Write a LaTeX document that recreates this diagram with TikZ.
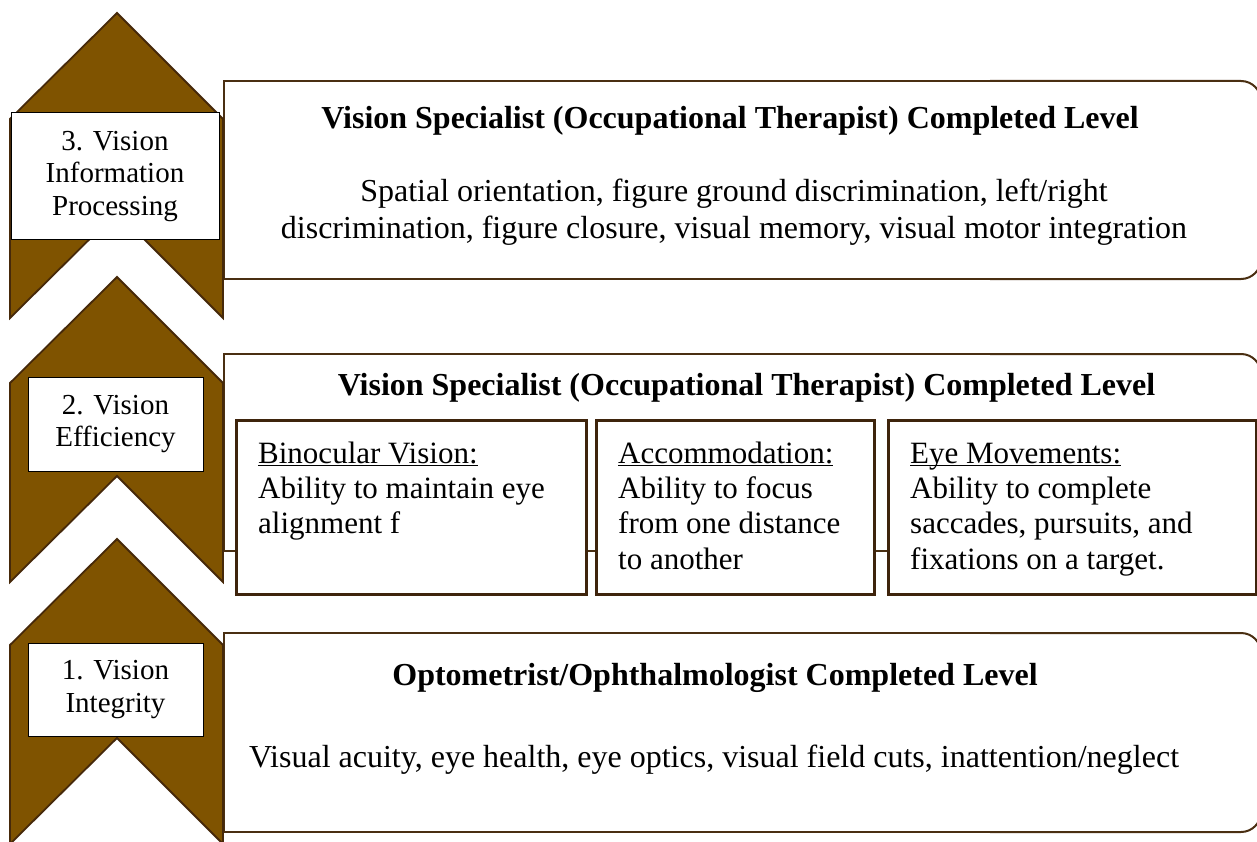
\documentclass[tikz,border=0pt]{standalone}
\usepackage{fontspec}
\setmainfont{Liberation Serif}
\definecolor{chevfill}{HTML}{7F5300}
\definecolor{chevline}{HTML}{46290A}
\definecolor{boxline}{HTML}{4A2F12}
\definecolor{cellline}{HTML}{3E240C}
% underlined heading with a rule at a fixed depth below the baseline
\newcommand\headul[1]{\leavevmode\setbox0\hbox{#1}\rlap{\rule[-3.2pt]{\wd0}{1.4pt}}\box0}
% upward chevron whose apex sits at height #1
\newcommand\chevronat[1]{%
  \draw[chevron] (10,{#1+106}) -- (117,#1) -- (223,{#1+106}) -- (223,{#1+305})
    -- (117,{#1+199}) -- (10,{#1+305}) -- cycle;}
% level panel: sharp on the left, rounded on the right (#1 top, #2 bottom)
\newcommand\levelpanel[2]{%
  \draw[levelbox] (1000,#2) -- (223.5,#2) -- (223.5,#1) -- (1000,#1);
  \draw[levelbox, rounded corners=20pt] (990,#1) -- (1261,#1) -- (1261,#2) -- (990,#2);}
\tikzset{
  chevron/.style={fill=chevfill, draw=chevline, line width=1.8pt, line join=miter},
  levelbox/.style={draw=boxline, line width=2pt},
  tagbox/.style={draw=black, fill=white, line width=1pt, inner sep=0pt, align=center,
    font=\fontsize{29}{32.5}\selectfont},
  cell/.style={draw=cellline, fill=white, line width=3.2pt, inner sep=0pt, anchor=north west},
  title/.style={font=\fontsize{32}{36.5}\selectfont\bfseries, anchor=base, inner sep=0pt},
  body/.style={font=\fontsize{32}{36.5}\selectfont, anchor=base, inner sep=0pt},
  celltext/.style={font=\fontsize{31}{35.4}\selectfont, anchor=base west, inner sep=0pt},
}
\begin{document}
\begin{tikzpicture}[x=1pt, y=-1pt]
\fill[white] (0,0) rectangle (1257,842);
\useasboundingbox (0,0) rectangle (1257,842);

% level panels
\levelpanel{81}{279}
\levelpanel{354}{551}
\levelpanel{633}{832}

% chevrons
\chevronat{13}
\chevronat{277}
\chevronat{539}

% level tags
\node[tagbox, minimum width=208pt, minimum height=127pt] (tag3) at (115,176.5)
  {3. Vision\\Information\\Processing};
\node[tagbox, minimum width=175pt, minimum height=94pt] (tag2) at (115.5,424)
  {2. Vision\\Efficiency};
\node[tagbox, minimum width=175pt, minimum height=93pt] (tag1) at (115.5,689.5)
  {1. Vision\\Integrity};

% level 3
\node[title] (title3) at (730,129) {Vision Specialist (Occupational Therapist) Completed Level};
\node[body] (body3) at (734,201.7) {\parbox[t]{1000pt}{\centering
  Spatial orientation, figure ground discrimination, left/right\\
  discrimination, figure closure, visual memory, visual motor integration}};

% level 2
\node[title] (title2) at (746.5,395) {Vision Specialist (Occupational Therapist) Completed Level};
\node[cell, minimum width=350pt, minimum height=174pt] (binoc) at (235,419) {};
\node[cell, minimum width=278pt, minimum height=174pt] (accom) at (595,419) {};
\node[cell, minimum width=368pt, minimum height=174pt] (eyemv) at (887,419) {};
\node[celltext] (binoctext) at (258,463) {\parbox[t]{330pt}{\raggedright
  \headul{Binocular Vision:}\\Ability to maintain eye\\alignment f}};
\node[celltext] (accomtext) at (618,463) {\parbox[t]{260pt}{\raggedright
  \headul{Accommodation:}\\Ability to focus\\from one distance\\to another}};
\node[celltext] (eyemvtext) at (910,463) {\parbox[t]{340pt}{\raggedright
  \headul{Eye Movements:}\\Ability to complete\\saccades, pursuits, and\\fixations on a target.}};

% level 1
\node[title] (title1) at (715,685) {Optometrist/Ophthalmologist Completed Level};
\node[body] (body1) at (714,767) {Visual acuity, eye health, eye optics, visual field cuts, inattention/neglect};
\end{tikzpicture}
\end{document}
